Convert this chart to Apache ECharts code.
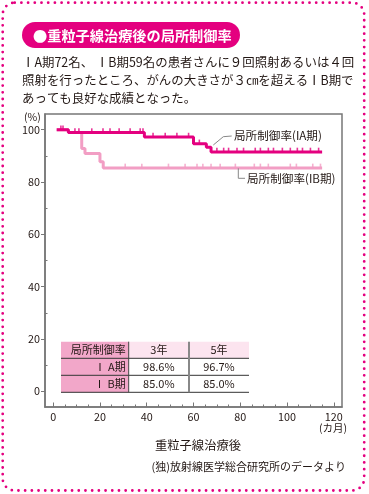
<!DOCTYPE html>
<html><head><meta charset="utf-8">
<script src="https://cdn.jsdelivr.net/npm/echarts@6/dist/echarts.min.js"></script>
<style>html,body{margin:0;padding:0;background:#fff}#c{width:369px;height:494px}</style>
</head><body><div id="c"></div>
<script>
// ---- data ----
const ia_months = [1.5, 6.5, 39, 60, 65.5, 67.5, 115];
const ia_rate   = [100, 98.9, 97.2, 94.6, 93.3, 91.5, 91.5];
const ib_months = [1.5, 6.5, 12.2, 13.6, 20, 21.4, 115];
const ib_rate   = [100, 98.9, 92.8, 90.9, 87.7, 85.4, 85.4];
const ia_censor = [3.3, 4.2, 9.3, 11, 16.5, 21.3, 24.3, 28.2, 32.9, 37.2, 38.4, 42.7, 47.9, 52.9, 57.9, 62.5,
                   70, 72.9, 75, 78.6, 81.4, 86.4, 88.6, 92, 94.2, 98, 101.4, 104.4, 106.6, 110, 113.5];
const ib_censor = [30.8, 37.9, 49.3, 56.4, 61.5, 64, 67.5, 71.4, 77.9, 86, 88.6, 92, 101.4, 104, 111, 114.3];
const x_ticks = [0, 20, 40, 60, 80, 100, 120];
const x_minor = [0,5,10,15,20,25,30,35,40,45,50,55,60,65,70,75,80,85,90,95,100,105,110,115,120];
const y_ticks = [0, 20, 40, 60, 80, 100];
const y_minor = [10, 30, 50, 70, 90];
const table_header = ['局所制御率', '3年', '5年'];
const table_rows = [['Ⅰ A期', '98.6%', '96.7%'], ['Ⅰ B期', '85.0%', '85.0%']];

const title = '●重粒子線治療後の局所制御率';
const body = ['ⅠA期72名、 ⅠB期59名の患者さんに９回照射あるいは４回',
              '照射を行ったところ、がんの大きさが３㎝を超えるⅠB期で',
              'あっても良好な成績となった。'];
const label_ia = '局所制御率(IA期)';
const label_ib = '局所制御率(IB期)';
const x_name = '重粒子線治療後';
const x_unit = '(カ月)';
const y_unit = '(%)';
const source = '(独)放射線医学総合研究所のデータより';

// ---- build ----
const FF = '"Noto Sans CJK JP", "Noto Sans", sans-serif';
const MAG = '#e4007f', PINK = '#f29ec4', TXT = '#231815', AX = '#777';
function stepAt(ms, vs, m){ let v = vs[0]; for (let i=0;i<ms.length;i++){ if (ms[i] <= m) v = vs[i]; } return v; }
const iaData = ia_months.map((m,i)=>[m, ia_rate[i]]);
const ibData = ib_months.map((m,i)=>[m, ib_rate[i]]);
const iaC = ia_censor.map(m=>[m, stepAt(ia_months, ia_rate, m)]);
const ibC = ib_censor.map(m=>[m, stepAt(ib_months, ib_rate, m)]);

const chart = echarts.init(document.getElementById('c'), null, {renderer:'canvas'});

function txt(text, x, y, size, opt){
  opt = opt || {};
  return {type:'text', z:100, style:{text, x, y, fill: opt.fill||TXT, font: (opt.weight||'normal')+' '+size+'px '+FF,
    align: opt.align||'left', verticalAlign:'middle', textAlign: opt.align||'left', textVerticalAlign:'middle'}};
}
const g = [];
// dotted border
g.push({type:'rect', z:1, shape:{x:2.7,y:2.7,width:361.5,height:487.8,r:12},
  style:{fill:null, stroke:MAG, lineWidth:2.8, lineDash:[0,6.7], lineCap:'round'}});
// title pill
g.push({type:'rect', z:2, shape:{x:22,y:22,width:218,height:26,r:13}, style:{fill:MAG}});
g.push(txt(title, 33, 35.5, 14.2, {fill:'#fff', weight:'bold'}));
// body text
body.forEach((t,i)=>g.push(txt(t, 22, 62+18*i, 12.45)));
// axis extra text
g.push(txt(y_unit, 24, 117.5, 10.5));
g.push(txt(x_unit, 333, 428, 10.5, {align:'center'}));
g.push(txt(x_name, 198, 445, 12.3, {align:'center'}));
g.push(txt(source, 346, 467, 11, {align:'right'}));
// series labels with leader lines
g.push({type:'polyline', z:50, shape:{points:[[213.3,145],[223.3,136.7],[231.7,136]]}, style:{stroke:'#888', lineWidth:1, fill:null}});
g.push(txt(label_ia, 234, 136, 11.6));
g.push({type:'polyline', z:50, shape:{points:[[238.3,168.3],[238.3,178.3],[245,178.3]]}, style:{stroke:'#888', lineWidth:1, fill:null}});
g.push(txt(label_ib, 247, 179, 11.6));
// table
const cx = [61, 128.7, 189, 249], ry = [341.7, 358.3, 375.3, 392.3];
for (let r=0;r<3;r++){
  g.push({type:'rect', z:60, shape:{x:cx[0],y:ry[r],width:cx[1]-cx[0],height:ry[r+1]-ry[r]}, style:{fill:'#f2a7c9'}});
  g.push({type:'rect', z:60, shape:{x:cx[1],y:ry[r],width:cx[3]-cx[1],height:ry[r+1]-ry[r]}, style:{fill: r===0?'#fce4ef':'#fff'}});
}
[ry[1], ry[2], ry[3]].forEach(y=>g.push({type:'line', z:61, shape:{x1:cx[0],y1:y,x2:cx[3],y2:y}, style:{stroke:'#333', lineWidth:1}}));
g.push({type:'line', z:61, shape:{x1:cx[1],y1:ry[0],x2:cx[1],y2:ry[3]}, style:{stroke:'#444', lineWidth:1}});
g.push({type:'line', z:61, shape:{x1:cx[2],y1:ry[0],x2:cx[2],y2:ry[3]}, style:{stroke:'#888', lineWidth:2}});
const rowsAll = [table_header].concat(table_rows);
rowsAll.forEach((row,r)=>{
  const yc = (ry[r]+ry[r+1])/2;
  g.push(txt(row[0], cx[1]-3, yc, 11, {align:'right'}));
  g.push(txt(row[1], (cx[1]+cx[2])/2, yc, 11, {align:'center'}));
  g.push(txt(row[2], (cx[2]+cx[3])/2, yc, 11, {align:'center'}));
});

const axisTextStyle = {color:TXT, fontSize:10.8, fontFamily:FF};
const option = {
  backgroundColor:'#fff',
  animation:false,
  grid:{left:45, right:27, top:114, bottom:87, show:true, borderColor:AX, borderWidth:1.5, backgroundColor:'transparent'},
  xAxis:[
    {type:'value', min:-3.5, max:123.5, splitLine:{show:false},
     axisLine:{show:true, onZero:false, lineStyle:{color:AX, width:1.5}},
     axisTick:{show:true, inside:true, length:2.5, customValues:x_minor, lineStyle:{color:AX, width:1}},
     axisLabel:{show:true, customValues:x_ticks, margin:5, ...axisTextStyle}},
    {type:'value', min:-3.5, max:123.5, splitLine:{show:false}, position:'bottom', offset:0,
     axisLine:{show:false, onZero:false},
     axisTick:{show:true, inside:true, length:4.5, customValues:x_ticks, lineStyle:{color:AX, width:1}},
     axisLabel:{show:false}}
  ],
  yAxis:[
    {type:'value', min:-6, max:106, splitLine:{show:false},
     axisLine:{show:true, onZero:false, lineStyle:{color:AX, width:1.5}},
     axisTick:{show:true, inside:false, length:4, customValues:y_ticks, lineStyle:{color:AX, width:1}},
     axisLabel:{show:true, customValues:y_ticks, margin:5, ...axisTextStyle}},
    {type:'value', min:-6, max:106, splitLine:{show:false}, position:'left', offset:0,
     axisLine:{show:false, onZero:false},
     axisTick:{show:true, inside:true, length:2.5, customValues:y_minor, lineStyle:{color:AX, width:1}},
     axisLabel:{show:false}}
  ],
  series:[
    {type:'line', step:'end', data:ibData, symbol:'none', lineStyle:{color:PINK, width:3}, z:3},
    {type:'scatter', data:ibC, symbol:'rect', symbolSize:[1.6,3.5], symbolOffset:[0,-2.5], itemStyle:{color:PINK}, z:3},
    {type:'line', step:'end', data:iaData, symbol:'none', lineStyle:{color:MAG, width:3}, z:4},
    {type:'scatter', data:iaC, symbol:'rect', symbolSize:[1.6,3.5], symbolOffset:[0,-2.5], itemStyle:{color:MAG}, z:4}
  ],
  graphic:g
};
chart.setOption(option);
</script></body></html>
